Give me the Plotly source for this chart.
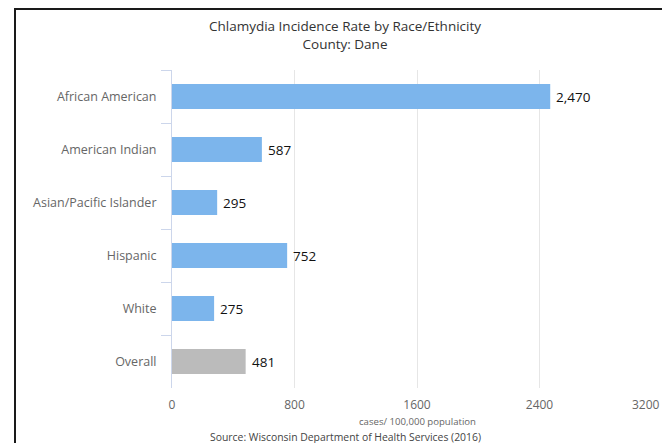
import plotly.graph_objects as go

categories = ["African American", "American Indian", "Asian/Pacific Islander",
              "Hispanic", "White", "Overall"]
rates = [2470, 587, 295, 752, 275, 481]
bar_colors = ["#7cb5ec", "#7cb5ec", "#7cb5ec", "#7cb5ec", "#7cb5ec", "#bbbbbb"]
x_tick_vals = [0, 800, 1600, 2400]
x_tick_text = ["0", "800", "1600", "2400"]
x_max = 3200

title_text = "Chlamydia Incidence Rate by Race/Ethnicity<br>County: Dane"
axis_title = "cases/ 100,000 population"
source_text = "Source: Wisconsin Department of Health Services (2016)"

FONT = "Open Sans, DejaVu Sans, sans-serif"
W, H = 662, 443
ML, MR, MT, MB = 172, 0, 70, 55
PW, PH = W - ML - MR, H - MT - MB

fig = go.Figure()
fig.add_trace(go.Bar(
    x=rates, y=categories, orientation="h",
    marker=dict(color=bar_colors, line=dict(width=0)),
    width=0.47, hoverinfo="skip",
))

for c, v in zip(categories, rates):
    fig.add_annotation(x=v, y=c, xref="x", yref="y", text=f"{v:,}",
                       showarrow=False, xanchor="left", yanchor="middle",
                       xshift=4, font=dict(family=FONT, size=13.5, color="#111"))

def px_x(p):
    return (p - ML) / PW

def px_y(p):
    return (H - MB - p) / PH

# "3200" end label (justified inside like the original)
fig.add_annotation(x=1.0, y=px_y(404), xref="paper", yref="paper", text="3200",
                   showarrow=False, xanchor="right", yanchor="middle",
                   font=dict(family=FONT, size=12, color="#666"))
fig.add_annotation(x=0.5, y=px_y(421), xref="paper", yref="paper", text=axis_title,
                   showarrow=False, xanchor="center", yanchor="middle",
                   font=dict(family=FONT, size=9.6, color="#666"))
fig.add_annotation(x=px_x(345), y=px_y(436.5), xref="paper", yref="paper", text=source_text,
                   showarrow=False, xanchor="center", yanchor="middle",
                   font=dict(family=FONT, size=10.4, color="#444"))

# outer frame of the original screenshot
fig.add_shape(type="rect", xref="paper", yref="paper",
              x0=px_x(15), x1=px_x(700), y0=px_y(470), y1=px_y(9),
              line=dict(color="#1a1a1a", width=2), fillcolor="rgba(0,0,0,0)", layer="above")

fig.update_layout(
    width=W, height=H,
    margin=dict(l=ML, r=MR, t=MT, b=MB),
    paper_bgcolor="white", plot_bgcolor="white",
    showlegend=False,
    title=dict(text=title_text, xref="container", yref="container",
               x=345 / W, xanchor="center", y=1 - 31 / H, yanchor="top",
               font=dict(family=FONT, size=13.5, color="#333")),
    xaxis=dict(range=[0, x_max], tickvals=x_tick_vals, ticktext=x_tick_text,
               showgrid=True, gridcolor="#e6e6e6", gridwidth=1,
               zeroline=False, showline=False,
               ticks="outside", ticklen=6, tickcolor="rgba(0,0,0,0)",
               tickfont=dict(family=FONT, size=12, color="#666"), fixedrange=True),
    yaxis=dict(autorange="reversed", showgrid=False, zeroline=False,
               showline=True, linecolor="#ccd6eb", linewidth=1,
               ticks="outside", ticklen=10, tickcolor="#ccd6eb", tickson="boundaries",
               ticklabelstandoff=12,
               tickfont=dict(family=FONT, size=12.5, color="#666"), fixedrange=True),
)

fig.write_html("out.html", post_script="document.body.style.margin='0';",
               config={"displayModeBar": False, "staticPlot": True})
